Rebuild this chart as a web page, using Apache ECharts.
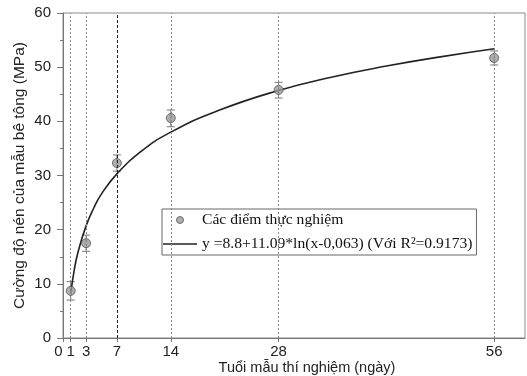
<!DOCTYPE html>
<html><head><meta charset="utf-8">
<script src="https://cdn.jsdelivr.net/npm/echarts@6/dist/echarts.min.js"></script>
<style>html,body{margin:0;padding:0;background:#fff}#c{width:527px;height:376px}</style>
</head><body><div id="c"></div>
<script>
// Experimental data (age in days, strength in MPa)
const days = [1, 3, 7, 14, 28, 56];
const strength = [8.7, 17.5, 32.3, 40.6, 45.8, 51.7];
const errLow = [7.0, 16.0, 30.8, 39.0, 44.3, 50.4];
const errHigh = [10.4, 19.0, 33.8, 42.1, 47.2, 53.0];
// Fitted curve, values
const curveX = [1, 1.5, 2, 3, 4, 5, 7, 10, 14, 20, 28, 35, 42, 49, 56];
const curveY = [8.1, 12.9, 16.1, 20.7, 24.0, 26.6, 30.3, 34.3, 38.0, 41.9, 45.7, 48.2, 50.2, 51.9, 53.4];
const xTicks = [0, 1, 3, 7, 14, 28, 56];
const guideLines = [1, 3, 7, 14, 28, 56];

const nameScatter = 'Các điểm thực nghiệm';
const nameFit = 'y =8.8+11.09*ln(x-0,063) (Với R²=0.9173)';

const chart = echarts.init(document.getElementById('c'));
const sans = 'Liberation Sans';
chart.setOption({
  animation: false,
  grid: { left: 63, right: 2, top: 13, bottom: 38, show: true, borderColor: '#8a8a8a', borderWidth: 1,
          containLabel: false, outerBoundsMode: 'none' },
  legend: {
    orient: 'vertical', left: 162, top: 209,
    borderColor: '#666', borderWidth: 1, padding: [3, 4, 3, 1],
    itemWidth: 34, itemHeight: 7, itemGap: 8,
    textStyle: { fontFamily: 'Liberation Serif', fontSize: 15.6, color: '#111' },
    data: [
      { name: nameScatter, icon: 'circle', itemStyle: { color: '#9a9a9a', borderColor: '#555', borderWidth: 1 } },
      { name: nameFit, icon: 'path://M0,0h34v1.6h-34z', itemStyle: { color: '#222' } }
    ]
  },
  xAxis: {
    type: 'value', min: 0, max: 60,
    name: 'Tuổi mẫu thí nghiệm (ngày)', nameLocation: 'middle', nameGap: 22, nameMoveOverlap: false,
    nameTextStyle: { fontFamily: sans, fontSize: 14.5, color: '#222', padding: [0, 0, 0, 26] },
    axisLine: { lineStyle: { color: '#777' } },
    axisTick: { show: true, customValues: xTicks, length: 4, lineStyle: { color: '#777' } },
    axisLabel: {
      customValues: xTicks, fontFamily: sans, fontSize: 15, color: '#222', margin: 6,
      formatter: v => v === 0 ? '{z|0}' : String(v),
      rich: { z: { fontFamily: sans, fontSize: 15, color: '#222', padding: [0, 9, 0, 0] } }
    },
    splitLine: { show: false }
  },
  yAxis: {
    type: 'value', min: 0, max: 60, interval: 10,
    name: 'Cường độ nén của mẫu bê tông (MPa)', nameLocation: 'middle', nameGap: 35, nameMoveOverlap: false,
    nameTextStyle: { fontFamily: sans, fontSize: 15.5, color: '#222' },
    axisLine: { show: true, lineStyle: { color: '#777' } },
    axisTick: { show: true, inside: false, length: 6, lineStyle: { color: '#777' } },
    minorTick: { show: true, splitNumber: 2, length: 3, lineStyle: { color: '#777' } },
    axisLabel: { fontFamily: sans, fontSize: 15, color: '#222', margin: 12 },
    splitLine: { show: false }
  },
  series: [
    {
      name: 'guides', type: 'line', data: [], silent: true,
      markLine: {
        symbol: 'none', silent: true, label: { show: false },
        data: guideLines.map(v => ({
          xAxis: v,
          lineStyle: v === 7 ? { color: '#222', type: [3, 2], width: 1 } : { color: '#888', type: [2, 2], width: 1 }
        }))
      }
    },
    {
      name: nameFit, type: 'line', smooth: true, symbol: 'none',
      lineStyle: { color: '#222', width: 1.6 }, itemStyle: { color: '#222' },
      data: curveX.map((x, i) => [x, curveY[i]])
    },
    {
      name: 'err', type: 'custom', silent: true,
      data: days.map((d, i) => [d, errLow[i], errHigh[i]]),
      renderItem: function (params, api) {
        const x = api.value(0);
        const lo = api.coord([x, api.value(1)]);
        const hi = api.coord([x, api.value(2)]);
        const w = 4;
        const st = { stroke: '#777', lineWidth: 1 };
        return { type: 'group', children: [
          { type: 'line', shape: { x1: lo[0], y1: lo[1], x2: hi[0], y2: hi[1] }, style: st },
          { type: 'line', shape: { x1: lo[0] - w, y1: lo[1], x2: lo[0] + w, y2: lo[1] }, style: st },
          { type: 'line', shape: { x1: hi[0] - w, y1: hi[1], x2: hi[0] + w, y2: hi[1] }, style: st }
        ]};
      },
      z: 3
    },
    {
      name: nameScatter, type: 'scatter', symbol: 'circle', symbolSize: 9,
      itemStyle: { color: '#9a9a9a', borderColor: '#555', borderWidth: 1 },
      data: days.map((d, i) => [d, strength[i]]), z: 4
    }
  ]
});
</script></body></html>
